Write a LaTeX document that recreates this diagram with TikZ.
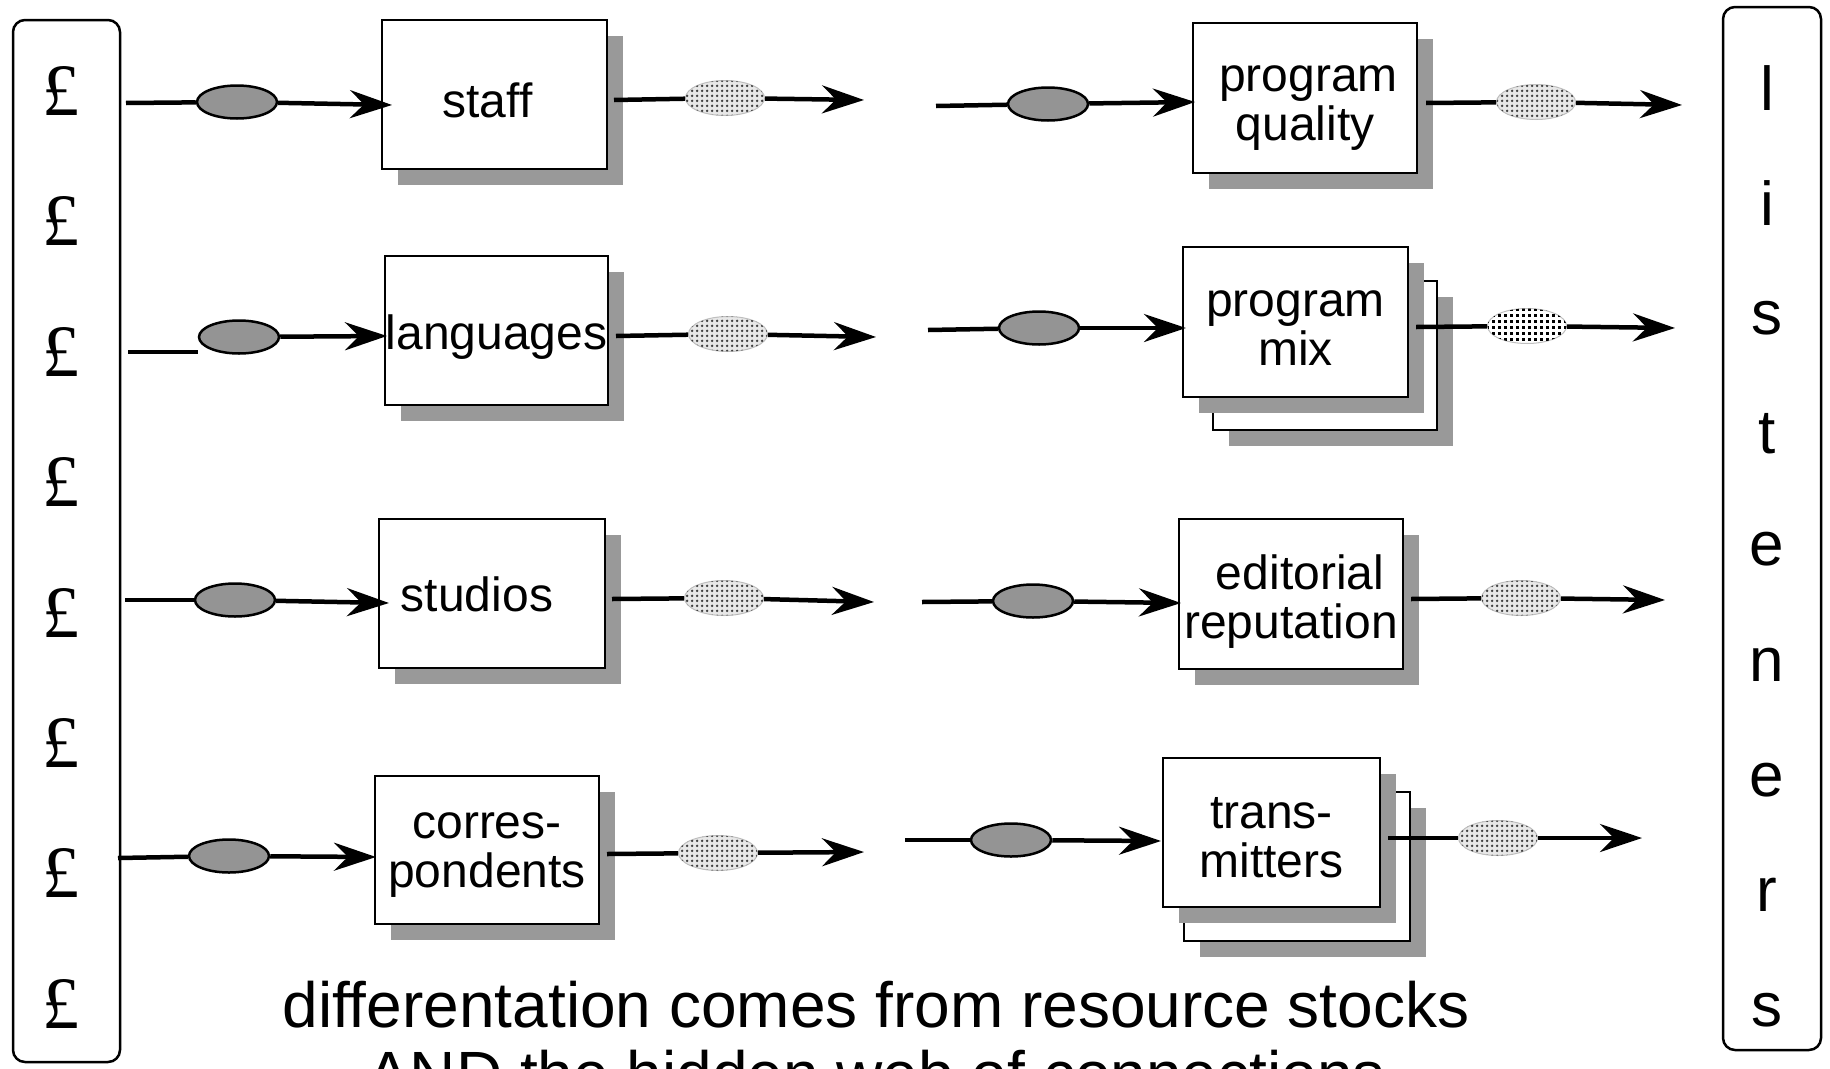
\documentclass[tikz,border=0pt]{standalone}
\usepackage{fontspec}
\setmainfont{Liberation Sans}
\newfontfamily\poundfont{Liberation Serif}
\usetikzlibrary{shapes.geometric,arrows.meta,shadows,patterns.meta}
\definecolor{shadowgray}{rgb}{0.6,0.6,0.6}
\tikzdeclarepattern{name=lightdots, type=uncolored,
  bounding box={(0pt,0pt) and (5pt,5pt)}, tile size={(5pt,5pt)},
  code={\fill (2.5pt,2.5pt) circle (1.6pt);}}
\tikzdeclarepattern{name=sqdots, type=uncolored,
  bounding box={(0pt,0pt) and (5.5pt,5.5pt)}, tile size={(5.5pt,5.5pt)},
  code={\fill (1.3pt,1.3pt) rectangle (4.2pt,4.2pt);}}
\tikzset{
  box/.style={draw=black, line width=2.5pt, fill=white, inner sep=0pt,
    general shadow={fill=shadowgray, shadow xshift=16pt, shadow yshift=-16pt}},
  boxtext/.style={inner sep=0pt, align=center, font=\fontsize{48}{49}\selectfont},
  sidebox/.style={draw=black, line width=2.5pt, rounded corners=12pt, inner sep=0pt},
  lell/.style={ellipse, draw=black, line width=2.5pt, fill=black!42, inner sep=0pt,
    minimum width=80pt, minimum height=33pt},
  rell/.style={ellipse, draw=gray!50, line width=1pt, fill=gray!18, inner sep=0pt,
    minimum width=79pt, minimum height=35pt,
    postaction={pattern=lightdots, pattern color=black!75}},
  rellsq/.style={ellipse, draw=gray!50, line width=1pt, fill=white, inner sep=0pt,
    minimum width=79pt, minimum height=35pt,
    postaction={pattern=sqdots, pattern color=black}},
  conn/.style={line width=4.5pt},
  arr/.style={line width=4.5pt, -{Stealth[length=42pt,width=28pt,inset=14pt]}},
  pound/.style={font=\poundfont\fontsize{74}{74}\selectfont, inner sep=0pt},
  letter/.style={font=\fontsize{62}{62}\selectfont, inner sep=0pt},
  captext/.style={font=\fontsize{64}{69}\selectfont, inner sep=0pt, anchor=base}
}
\begin{document}
\begin{tikzpicture}[x=1pt,y=-1pt]
\useasboundingbox (0,0) rectangle (1830,1068);
\clip (0,0) rectangle (1830,1068);

% side boxes
\node[sidebox, minimum width=107pt, minimum height=1042pt] (money) at (66.5,541) {};
\node[sidebox, minimum width=98pt, minimum height=1043pt] (listeners) at (1772,528.5) {};
\foreach \i in {0,...,7} {
  \node[pound] (p\i) at (61,{91+130.4*\i}) {£};
}
\foreach \c [count=\i from 0] in {l,i,s,t,e,n,e,r,s} {
  \node[letter] (l\i) at (1767,{88+115.3*\i}) {\c};
}

% resource boxes
\node[box, minimum width=225pt, minimum height=149pt] (staff) at (494.5,94.5) {};
\node[box, minimum width=223pt, minimum height=149pt] (lang) at (496.5,330.5) {};
\node[box, minimum width=226pt, minimum height=149pt] (studios) at (492,593.5) {};
\node[box, minimum width=224pt, minimum height=148pt] (corr) at (487,850) {};
\node[box, minimum width=224pt, minimum height=150pt] (pq) at (1305,98) {};
\node[box, minimum width=224pt, minimum height=149pt] (pmback) at (1325,355.5) {};
\node[box, minimum width=225pt, minimum height=150pt] (pm) at (1295.5,322) {};
\node[box, minimum width=224pt, minimum height=150pt] (ed) at (1291,594) {};
\node[box, minimum width=226pt, minimum height=149pt] (trback) at (1297,866.5) {};
\node[box, minimum width=217pt, minimum height=149pt] (tr) at (1271.5,832.5) {};

% box texts
\node[boxtext] (staffT) at ([xshift=-7pt,yshift=-6pt]staff.center) {staff};
\node[boxtext] (langT) at ([yshift=-7pt]lang.center) {languages};
\node[boxtext] (studiosT) at ([xshift=-15pt,yshift=-1pt]studios.center) {studios};
\node[boxtext] (corrT) at ([yshift=-5pt]corr.center) {corres-\\pondents};
\node[boxtext] (pqT) at ([yshift=-10pt]pq.center) {\hspace*{7pt}program\\quality};
\node[boxtext] (pmT) at ([yshift=-6pt]pm.center) {program\\mix};
\node[boxtext] (edT) at ([yshift=-8pt]ed.center) {\hspace*{18pt}editorial\\reputation};
\node[boxtext] (trT) at ([yshift=-5pt]tr.center) {trans-\\mitters};

% ellipses
\node[lell] (e1a) at (237,102) {};
\node[lell] (e2a) at (239,337) {};
\node[lell] (e3a) at (235,600) {};
\node[lell] (e4a) at (229,856) {};
\node[rell] (e1b) at (725,98) {};
\node[rell] (e2b) at (728,334) {};
\node[rell] (e3b) at (724,598) {};
\node[rell] (e4b) at (718,853) {};
\node[lell] (e1c) at (1048,104) {};
\node[lell] (e2c) at (1039,328) {};
\node[lell] (e3c) at (1033,601) {};
\node[lell] (e4c) at (1011,840) {};
\node[rell] (e1d) at (1536,102) {};
\node[rellsq] (e2d) at (1527,326) {};
\node[rell] (e3d) at (1521,598) {};
\node[rell] (e4d) at (1498,838) {};

% free ends
\coordinate (s1) at (126,103); \coordinate (t1) at (392,105);
\coordinate (s2) at (128,352); \coordinate (s2b) at (198,352); \coordinate (t2) at (387,336);
\coordinate (s3) at (125,600); \coordinate (t3) at (389,603);
\coordinate (s4) at (118,858); \coordinate (t4) at (376,857);
\coordinate (o1) at (614,100); \coordinate (u1) at (864,100);
\coordinate (o2) at (616,336); \coordinate (u2) at (876,337);
\coordinate (o3) at (612,599); \coordinate (u3) at (874,602);
\coordinate (o4) at (607,854); \coordinate (u4) at (864,852);
\coordinate (r1) at (936,106); \coordinate (v1) at (1195,102);
\coordinate (r2) at (928,330); \coordinate (v2) at (1186,328);
\coordinate (r3) at (922,602); \coordinate (v3) at (1181,603);
\coordinate (r4) at (905,840); \coordinate (v4) at (1161,841);
\coordinate (w1) at (1426,103); \coordinate (z1) at (1682,105);
\coordinate (w2) at (1416,327); \coordinate (z2) at (1675,328);
\coordinate (w3) at (1411,599); \coordinate (z3) at (1665,600);
\coordinate (w4) at (1388,838); \coordinate (z4) at (1642,838);

% connectors
\draw[conn] (s1) -- (e1a); \draw[arr] (e1a) -- (t1);
\draw[conn] (s2) -- (s2b); \draw[arr] (e2a) -- (t2);
\draw[conn] (s3) -- (e3a); \draw[arr] (e3a) -- (t3);
\draw[conn] (s4) -- (e4a); \draw[arr] (e4a) -- (t4);
\draw[conn] (o1) -- (e1b); \draw[arr] (e1b) -- (u1);
\draw[conn] (o2) -- (e2b); \draw[arr] (e2b) -- (u2);
\draw[conn] (o3) -- (e3b); \draw[arr] (e3b) -- (u3);
\draw[conn] (o4) -- (e4b); \draw[arr] (e4b) -- (u4);
\draw[conn] (r1) -- (e1c); \draw[arr] (e1c) -- (v1);
\draw[conn] (r2) -- (e2c); \draw[arr] (e2c) -- (v2);
\draw[conn] (r3) -- (e3c); \draw[arr] (e3c) -- (v3);
\draw[conn] (r4) -- (e4c); \draw[arr] (e4c) -- (v4);
\draw[conn] (w1) -- (e1d); \draw[arr] (e1d) -- (z1);
\draw[conn] (w2) -- (e2d); \draw[arr] (e2d) -- (z2);
\draw[conn] (w3) -- (e3d); \draw[arr] (e3d) -- (z3);
\draw[conn] (w4) -- (e4d); \draw[arr] (e4d) -- (z4);

% caption
\node[captext] (cap1) at (876,1027) {differentation comes from resource stocks};
\node[captext] (cap2) at (876,1096) {AND the hidden web of connections};
\end{tikzpicture}
\end{document}
